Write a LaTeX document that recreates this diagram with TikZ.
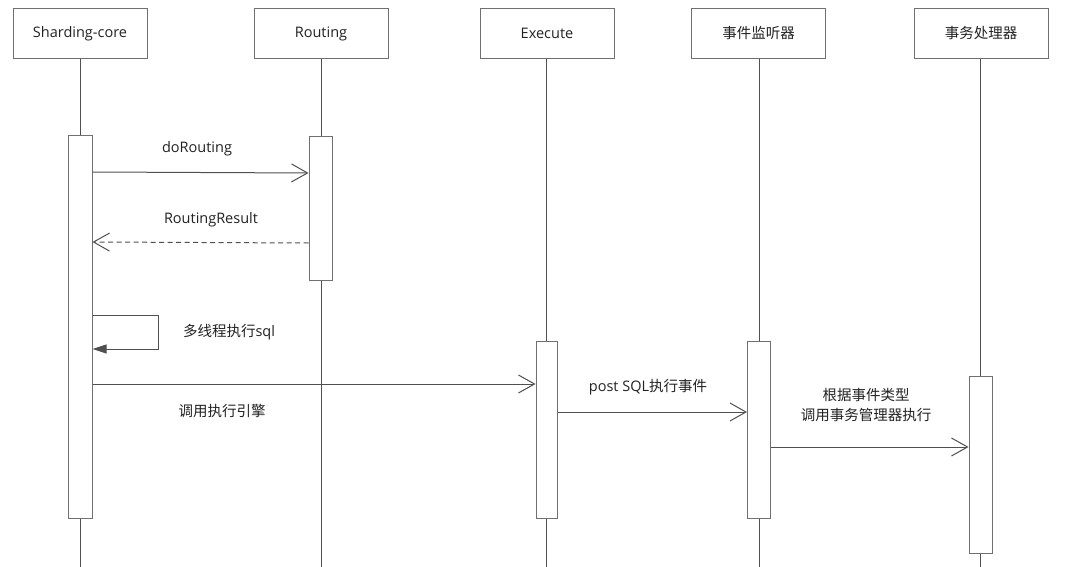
\documentclass[tikz,border=0pt]{standalone}
\usepackage{fontspec}
\setmainfont{Open Sans}
\newfontfamily\cjk{Noto Sans CJK SC}
\usetikzlibrary{arrows.meta}
\definecolor{linec}{HTML}{505050}
\definecolor{boxc}{HTML}{707070}
\definecolor{textc}{HTML}{222222}
\tikzset{
  head/.style={draw=boxc, line width=1pt, fill=white, minimum width=134pt, minimum height=50pt, inner sep=0pt, font=\fontsize{14.5}{17}\selectfont, text=textc},
  life/.style={draw=linec, line width=1pt},
  actbox/.style={draw=boxc, line width=1pt, fill=white, minimum width=23pt, inner sep=0pt},
  msg/.style={draw=linec, line width=1pt, -{Straight Barb[length=16pt,width=18pt,line width=1pt]}},
  reply/.style={msg, dash pattern=on 5pt off 3.5pt},
  selfmsg/.style={draw=linec, line width=1pt, -{Triangle[length=14pt,width=9pt]}},
  lbl/.style={text=textc, font=\fontsize{14.5}{20}\selectfont, inner sep=0pt, align=center}
}
\begin{document}
\begin{tikzpicture}[x=1pt,y=-1pt]
\useasboundingbox[fill=white] (0,0) rectangle (1080,567);
% headers
\node[head] (h1) at (80,33.5) {Sharding-core};
\node[head] (h2) at (321,33.5) {Routing};
\node[head] (h3) at (547,33.5) {Execute};
\node[head] (h4) at (758.5,33.5) {\cjk 事件监听器};
\node[head] (h5) at (981,33.5) {\cjk 事务处理器};
% lifeline ends
\coordinate (e1) at (80,567);
\coordinate (e2) at (321,567);
\coordinate (e3) at (546.5,567);
\coordinate (e4) at (759,567);
\coordinate (e5) at (980.5,567);
\draw[life] (h1.south -| e1) -- (e1);
\draw[life] (h2.south -| e2) -- (e2);
\draw[life] (h3.south -| e3) -- (e3);
\draw[life] (h4.south -| e4) -- (e4);
\draw[life] (h5.south -| e5) -- (e5);
% activation boxes
\node[actbox, minimum width=24pt, minimum height=382pt] (a1) at (80,327) {};
\node[actbox, minimum height=143pt] (a2) at (320.5,208.5) {};
\node[actbox, minimum width=21pt, minimum height=177pt] (a3) at (546.5,429.5) {};
\node[actbox, minimum height=177pt] (a4) at (759,429.5) {};
\node[actbox, minimum height=177pt] (a5) at (980.5,464.5) {};
% messages
\draw[msg] (a1.east |- 0,172) -- (a2.west |- 0,173);
\node[lbl] (l1) at (197,149) {doRouting};
\draw[reply] (a2.west |- 0,243) -- (a1.east |- 0,242);
\node[lbl] (l2) at (211,220) {RoutingResult};
\coordinate (s1) at (158,315);
\coordinate (s2) at (158,349);
\draw[selfmsg] (a1.east |- s1) -- (s1) -- (s2) -- (a1.east |- s2);
\node[lbl] (l3) at (229,332) {{\cjk 多线程执行}sql};
\draw[msg] (a1.east |- 0,384) -- (a3.west |- 0,384);
\node[lbl] (l4) at (222,411) {\cjk 调用执行引擎};
\draw[msg] (a3.east |- 0,412) -- (a4.west |- 0,412);
\node[lbl] (l5) at (648,387) {post SQL{\cjk 执行事件}};
\draw[msg] (a4.east |- 0,447) -- (a5.west |- 0,447);
\node[lbl] (l6) at (866,405) {\cjk 根据事件类型\\\cjk 调用事务管理器执行};
\end{tikzpicture}
\end{document}
